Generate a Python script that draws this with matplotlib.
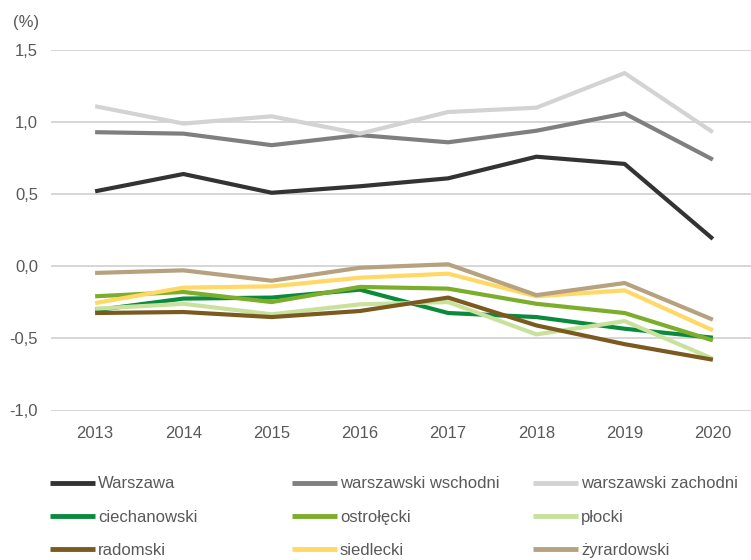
import matplotlib.pyplot as plt
from matplotlib.ticker import FuncFormatter

plt.rcParams['font.family'] = ['Liberation Sans', 'DejaVu Sans']

years = [2013, 2014, 2015, 2016, 2017, 2018, 2019, 2020]

warszawa = [0.52, 0.64, 0.51, 0.555, 0.61, 0.76, 0.71, 0.19]
warszawski_wschodni = [0.93, 0.92, 0.84, 0.91, 0.86, 0.94, 1.06, 0.74]
warszawski_zachodni = [1.11, 0.99, 1.04, 0.92, 1.07, 1.10, 1.34, 0.93]
ciechanowski = [-0.305, -0.224, -0.217, -0.162, -0.324, -0.352, -0.433, -0.495]
ostrolecki = [-0.208, -0.178, -0.248, -0.143, -0.155, -0.26, -0.324, -0.514]
plocki = [-0.294, -0.26, -0.333, -0.264, -0.248, -0.472, -0.38, -0.641]
radomski = [-0.324, -0.317, -0.352, -0.31, -0.217, -0.41, -0.54, -0.648]
siedlecki = [-0.255, -0.148, -0.139, -0.079, -0.051, -0.208, -0.167, -0.444]
zyrardowski = [-0.046, -0.028, -0.10, -0.01, 0.014, -0.20, -0.116, -0.37]

series = [
    ('Warszawa', warszawa, '#333333'),
    ('warszawski wschodni', warszawski_wschodni, '#7f7f7f'),
    ('warszawski zachodni', warszawski_zachodni, '#d3d3d3'),
    ('ciechanowski', ciechanowski, '#0b8a3e'),
    ('ostrołęcki', ostrolecki, '#7cae2c'),
    ('płocki', plocki, '#c8e29e'),
    ('radomski', radomski, '#7b5a1f'),
    ('siedlecki', siedlecki, '#ffd866'),
    ('żyrardowski', zyrardowski, '#b6a27f'),
]

W, H = 751, 560
fig = plt.figure(figsize=(W / 100, H / 100), dpi=100)
ax = fig.add_axes([51 / W, 1 - 410.5 / H, (757 - 51) / W, 360.5 / H])

handles = []
for name, vals, col in series:
    h, = ax.plot(years, vals, color=col, lw=3.0, label=name, solid_capstyle='butt')
    handles.append(h)

ax.set_xlim(2012.5, 2020.5)
ax.set_ylim(-1.0, 1.5)
ax.set_yticks([-1.0, -0.5, 0.0, 0.5, 1.0, 1.5])
ax.set_xticks(years)
ax.yaxis.set_major_formatter(FuncFormatter(lambda v, p: f'{v:.1f}'.replace('.', ',')))
ax.grid(axis='y', color='#d0d0d0', lw=1.2)
ax.set_axisbelow(True)
for s in ax.spines.values():
    s.set_visible(False)
ax.tick_params(length=0, labelsize=12, colors='#595959')
ax.tick_params(axis='y', pad=9.4)
ax.tick_params(axis='x', pad=11.5)

fig.text(13 / W, 1 - 22.5 / H, '(%)', fontsize=12, color='#595959', va='center', ha='left')

# legend as three columns, filled row by row
col_x = [50, 292, 533]
for c in range(3):
    hs = handles[c::3]
    leg = fig.legend(handles=hs, labels=[h.get_label() for h in hs],
                     loc='upper left', bbox_to_anchor=(col_x[c] / W, 1 - 476.5 / H),
                     frameon=False, fontsize=12, labelcolor='#595959',
                     handlelength=2.7, handletextpad=0.18, labelspacing=1.1,
                     borderaxespad=0, borderpad=0)
    for lh in leg.get_lines():
        lh.set_linewidth(3.5)

fig.savefig('out.png', dpi=100)
